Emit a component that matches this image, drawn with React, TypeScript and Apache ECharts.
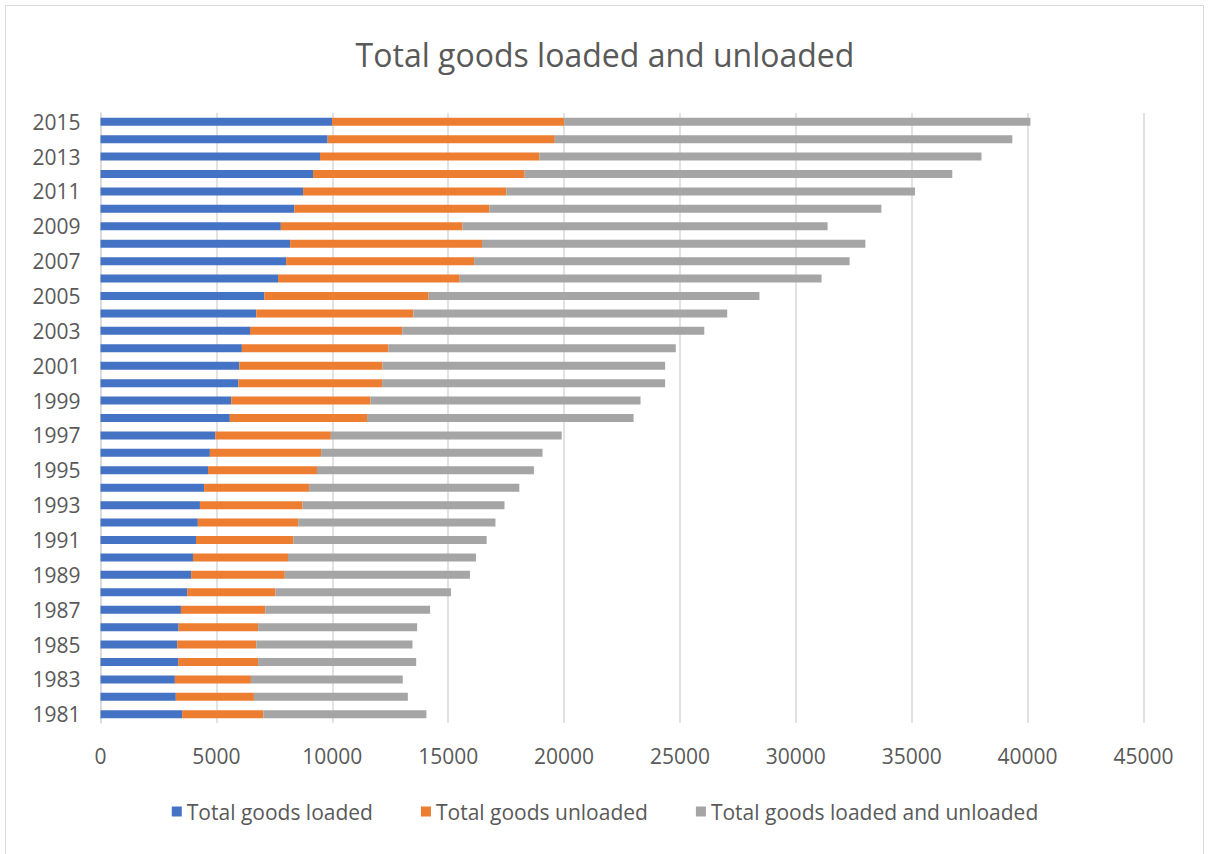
import React, { useEffect, useRef } from "react";
import * as echarts from "echarts";

const years: string[] = [
  "1981", "1982", "1983", "1984", "1985", "1986", "1987", "1988", "1989", "1990",
  "1991", "1992", "1993", "1994", "1995", "1996", "1997", "1998", "1999", "2000",
  "2001", "2002", "2003", "2004", "2005", "2006", "2007", "2008", "2009", "2010",
  "2011", "2012", "2013", "2014", "2015",
];

const loaded: number[] = [
  3520, 3250, 3210, 3350, 3310, 3370, 3470, 3740, 3910, 3990,
  4120, 4200, 4290, 4470, 4640, 4720, 4950, 5580, 5640, 5950,
  5990, 6100, 6450, 6720, 7070, 7660, 8010, 8180, 7780, 8360,
  8740, 9170, 9470, 9800, 9990,
];

const unloaded: number[] = [
  3510, 3370, 3280, 3450, 3410, 3430, 3640, 3810, 4040, 4100,
  4200, 4330, 4430, 4530, 4700, 4800, 4990, 5920, 6010, 6200,
  6180, 6320, 6570, 6780, 7090, 7840, 8110, 8280, 7840, 8420,
  8770, 9130, 9460, 9800, 10020,
];

const total: number[] = [
  7030, 6640, 6550, 6820, 6740, 6860, 7110, 7570, 7990, 8110,
  8340, 8510, 8710, 9070, 9360, 9550, 9960, 11500, 11650, 12210,
  12190, 12400, 13030, 13540, 14270, 15610, 16200, 16540, 15750, 16910,
  17630, 18450, 19080, 19740, 20110,
];

const seriesNames: string[] = [
  "Total goods loaded",
  "Total goods unloaded",
  "Total goods loaded and unloaded",
];

const title = "Total goods loaded and unloaded";

const colors = ["#4472C4", "#ED7D31", "#A5A5A5"];
const textColor = "#595959";
const font = "'Open Sans', 'Noto Sans', sans-serif";

export default function App() {
  const ref = useRef<HTMLDivElement>(null);

  useEffect(() => {
    if (!ref.current) return;
    const chart = echarts.init(ref.current, undefined, { renderer: "svg" });
    const values = [loaded, unloaded, total];
    chart.setOption({
      animation: false,
      backgroundColor: "#ffffff",
      textStyle: { fontFamily: font, color: textColor },
      title: {
        text: title,
        left: "center",
        top: 33,
        textStyle: {
          fontFamily: font,
          fontSize: 32,
          fontWeight: "normal",
          color: textColor,
        },
      },
      graphic: [
        {
          type: "rect",
          shape: { x: 5.5, y: 5.5, width: 1198, height: 860 },
          style: { fill: "none", stroke: "#D9D9D9", lineWidth: 1 },
          silent: true,
          z: -1,
        },
      ],
      legend: {
        bottom: 27,
        left: "center",
        icon: "rect",
        itemWidth: 10,
        itemHeight: 10,
        itemGap: 48,
        textStyle: { fontFamily: font, fontSize: 21, color: textColor },
        data: seriesNames,
      },
      grid: {
        left: 100.5,
        right: 66.5,
        top: 113,
        bottom: 131,
        containLabel: false,
      },
      xAxis: {
        type: "value",
        min: 0,
        max: 45000,
        interval: 5000,
        axisLine: { show: false },
        axisTick: { show: false },
        axisLabel: {
          fontFamily: font,
          fontSize: 21,
          color: textColor,
          margin: 22,
          formatter: (v: number) => String(v),
        },
        splitLine: { show: true, lineStyle: { color: "#D9D9D9", width: 1.5 } },
      },
      yAxis: {
        type: "category",
        data: years,
        axisLine: { show: true, lineStyle: { color: "#D9D9D9", width: 1.5 } },
        axisTick: { show: false },
        axisLabel: {
          interval: 1,
          fontFamily: font,
          fontSize: 21,
          color: textColor,
          margin: 20,
        },
        splitLine: { show: false },
      },
      series: seriesNames.map((name, i) => ({
        name,
        type: "bar",
        stack: "all",
        barWidth: 8,
        data: values[i],
        itemStyle: { color: colors[i] },
      })),
    });
    return () => chart.dispose();
  }, []);

  return (
    <div
      ref={ref}
      style={{ position: "fixed", left: 0, top: 0, width: 1210, height: 854 }}
    />
  );
}
